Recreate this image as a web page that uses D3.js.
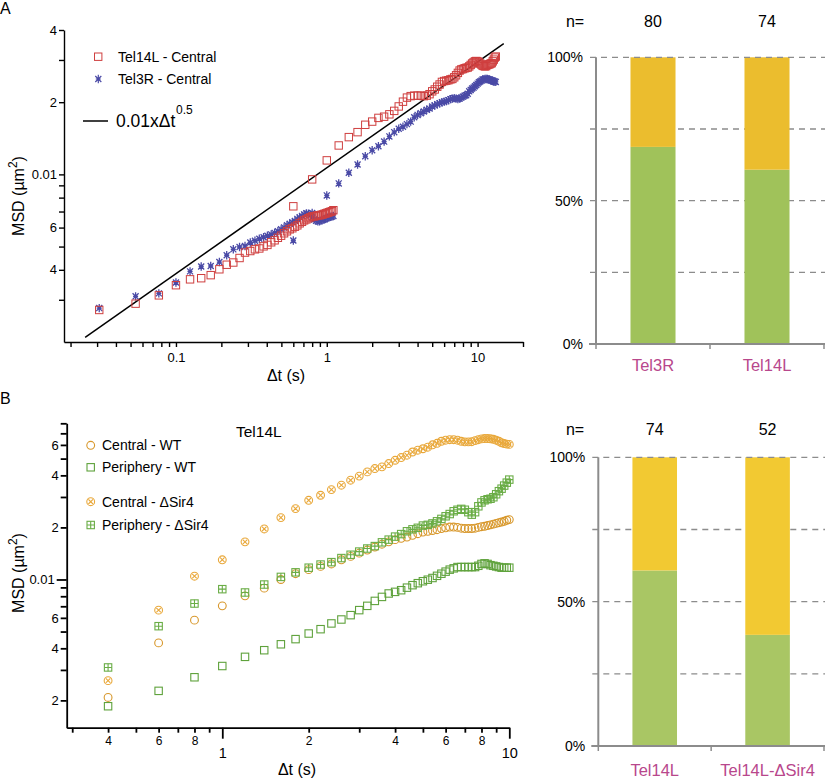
<!DOCTYPE html>
<html><head><meta charset="utf-8">
<script src="https://cdn.jsdelivr.net/npm/d3@7"></script>
<style>body{margin:0;background:#fff}svg{display:block}</style>
</head><body>
<svg id="chart" width="825" height="780"></svg>
<script>
// ---------------- DATA ----------------
// Panel A, MSD (um^2) vs time lag (s); short-interval acquisition
const tA1 = [0.031,0.054,0.077,0.100,0.124,0.147,0.170,0.194,0.217,0.240,0.264,0.287,0.311,0.334,0.357,0.381,0.404,0.428,0.451,0.474,0.498,0.521,0.545,0.568,0.591,0.615,0.638,0.661,0.685,0.708,0.732,0.755,0.778,0.802,0.825,0.849,0.872,0.895,0.919,0.942,0.966,0.989,1.012,1.036,1.059,1.083,1.106];
const tel14L_A1 = [0.00272,0.00289,0.00313,0.00345,0.00365,0.00369,0.00380,0.00402,0.00420,0.00429,0.00448,0.00472,0.00479,0.00487,0.00491,0.00501,0.00508,0.00521,0.00531,0.00544,0.00555,0.00568,0.00579,0.00590,0.00596,0.00605,0.00613,0.00625,0.00634,0.00643,0.00649,0.00656,0.00662,0.00668,0.00668,0.00671,0.00675,0.00675,0.00678,0.00681,0.00685,0.00688,0.00692,0.00695,0.00699,0.00702,0.00709];
const tel3R_A1 = [0.00277,0.00310,0.00319,0.00354,0.00394,0.00413,0.00415,0.00431,0.00460,0.00487,0.00498,0.00503,0.00520,0.00529,0.00539,0.00547,0.00555,0.00562,0.00570,0.00579,0.00590,0.00601,0.00613,0.00622,0.00631,0.00640,0.00652,0.00662,0.00671,0.00681,0.00688,0.00685,0.00675,0.00662,0.00649,0.00640,0.00637,0.00637,0.00643,0.00646,0.00649,0.00656,0.00659,0.00662,0.00665,0.00668,0.00671];
// Panel A, long-interval acquisition
const tA2 = [0.6,0.8,1.0,1.2,1.4,1.6,1.8,2.0,2.2,2.4,2.6,2.8,3.0,3.2,3.4,3.6,3.8,4.0,4.2,4.4,4.6,4.8,5.0,5.2,5.4,5.6,5.8,6.0,6.2,6.4,6.6,6.8,7.0,7.2,7.4,7.6,7.8,8.0,8.2,8.4,8.6,8.8,9.0,9.2,9.4,9.6,9.8,10.0,10.2,10.4,10.6,10.8,11.0,11.2,11.4,11.6,11.8,12.0,12.2,12.4,12.6,12.8,13.0,13.2];
const tel14L_A2 = [0.00736,0.00953,0.01144,0.0132,0.0143,0.0150,0.0161,0.0166,0.0172,0.0174,0.0178,0.0184,0.0192,0.0201,0.0209,0.0212,0.0213,0.0213,0.0213,0.0212,0.0213,0.0216,0.0222,0.0226,0.0232,0.0237,0.0243,0.0245,0.0246,0.0247,0.0249,0.0250,0.0254,0.0259,0.0265,0.0271,0.0274,0.0275,0.0277,0.0278,0.0279,0.0282,0.0286,0.0290,0.0293,0.0296,0.0297,0.0296,0.0293,0.0290,0.0287,0.0284,0.0283,0.0282,0.0283,0.0286,0.0287,0.0288,0.0290,0.0291,0.0296,0.0301,0.0307,0.0310];
const tel3R_A2 = [0.00530,0.00690,0.00817,0.00917,0.01016,0.0110,0.0119,0.0126,0.0131,0.0137,0.0144,0.0150,0.0155,0.0158,0.0162,0.0166,0.0173,0.0177,0.0180,0.0183,0.0186,0.0188,0.0192,0.0194,0.0196,0.0198,0.0200,0.0201,0.0202,0.0204,0.0206,0.0207,0.0208,0.0207,0.0206,0.0207,0.0209,0.0211,0.0213,0.0214,0.0217,0.0222,0.0225,0.0228,0.0230,0.0233,0.0236,0.0239,0.0242,0.0244,0.0246,0.0249,0.0249,0.0250,0.0250,0.0250,0.0249,0.0249,0.0247,0.0246,0.0245,0.0244,0.0244,0.0243];
// Reference line 0.01 x dt^0.5 (end points as drawn)
const fitT = [0.025, 14.9];
const fitMSD = [0.00209, 0.0351];

// Panel A axis ticks
const xTicksA = [0.02,0.03,0.04,0.05,0.06,0.07,0.08,0.09,0.1,0.2,0.3,0.4,0.5,0.6,0.7,0.8,0.9,1,2,3,4,5,6,7,8,9,10,20];
const xLabelValsA = [0.1, 1, 10];
const xLabelsA = ["0.1", "1", "10"];
const yTicksA = [0.003,0.004,0.005,0.006,0.007,0.008,0.009,0.01,0.02,0.03,0.04];
const yLabelsA = ["","4","","6","","","","0.01","2","","4"];

// Panel B (Tel14L)
const tB = [0.4,0.6,0.8,1.0,1.2,1.4,1.6,1.8,2.0,2.2,2.4,2.6,2.8,3.0,3.2,3.4,3.6,3.8,4.0,4.2,4.4,4.6,4.8,5.0,5.2,5.4,5.6,5.8,6.0,6.2,6.4,6.6,6.8,7.0,7.2,7.4,7.6,7.8,8.0,8.2,8.4,8.6,8.8,9.0,9.2,9.4,9.6,9.8,10.0];
const centralWT = [0.00208,0.00430,0.00582,0.00704,0.00804,0.00891,0.0100,0.0108,0.0114,0.0119,0.0123,0.0130,0.0136,0.0142,0.0148,0.0154,0.0160,0.0165,0.0170,0.0173,0.0176,0.0180,0.0184,0.0188,0.0190,0.0192,0.0194,0.0197,0.0199,0.0201,0.0201,0.0200,0.0198,0.0197,0.0197,0.0197,0.0198,0.0200,0.0202,0.0203,0.0205,0.0207,0.0209,0.0211,0.0213,0.0215,0.0217,0.0220,0.0222];
const peripheryWT = [0.00185,0.00227,0.00272,0.00316,0.00357,0.00390,0.00422,0.00452,0.00487,0.00516,0.00557,0.00587,0.00622,0.00665,0.00704,0.00752,0.00793,0.00830,0.00848,0.00867,0.00897,0.00927,0.00952,0.00977,0.00997,0.0102,0.0105,0.0108,0.0111,0.0114,0.0116,0.0118,0.0118,0.0118,0.0118,0.0118,0.0118,0.0120,0.0123,0.0124,0.0123,0.0121,0.0120,0.0119,0.0118,0.0117,0.0117,0.0117,0.0117];
const centralSir4 = [0.00260,0.00665,0.01045,0.0130,0.0165,0.0196,0.0228,0.0257,0.0287,0.0307,0.0331,0.0351,0.0375,0.0396,0.0419,0.0438,0.0448,0.0468,0.0489,0.0507,0.0523,0.0546,0.0559,0.0570,0.0582,0.0601,0.0613,0.0630,0.0639,0.0643,0.0643,0.0639,0.0630,0.0625,0.0625,0.0626,0.0635,0.0643,0.0650,0.0653,0.0653,0.0651,0.0647,0.0639,0.0630,0.0617,0.0611,0.0606,0.0604];
const peripherySir4 = [0.00310,0.00537,0.00726,0.00879,0.00841,0.00935,0.01035,0.0110,0.0117,0.0122,0.0126,0.0133,0.0139,0.0145,0.0151,0.0156,0.0164,0.0170,0.0177,0.0183,0.0190,0.0195,0.0199,0.0205,0.0207,0.0211,0.0217,0.0224,0.0232,0.0239,0.0248,0.0253,0.0256,0.0253,0.0245,0.0237,0.0245,0.0265,0.0279,0.0287,0.0291,0.0293,0.0299,0.0311,0.0324,0.0335,0.0349,0.0363,0.0378];

// Panel B axis ticks
const xTicksB = [0.3,0.4,0.5,0.6,0.7,0.8,0.9,1,2,3,4,5,6,7,8,9,10];
const xLabelsB = ["","4","","6","","8","","1","2","","4","","6","","8","","10"];
const xMajorB = [1, 10];
const yTicksB = [0.002,0.003,0.004,0.005,0.006,0.007,0.008,0.009,0.01,0.02,0.03,0.04,0.05,0.06,0.07,0.08];
const yLabelsB = ["2","","4","","6","","","","0.01","2","","4","","6","",""];
const yMajorB = [0.01];

// Bar charts: percentage of the green (lower) class
const barCatsA = ["Tel3R", "Tel14L"];
const barNA = [80, 74];
const barGreenA = [68.75, 60.8];
const barCatsB = ["Tel14L", "Tel14L-\u0394Sir4"];
const barNB = [74, 52];
const barGreenB = [60.8, 38.5];
const pctTicks = [0, 25, 50, 75, 100];
const pctLabels = ["0%", "", "50%", "", "100%"];

// ---------------- DRAWING ----------------
const FONT = '"Liberation Sans", Arial, Helvetica, sans-serif';
const svg = d3.select("#chart").attr("font-family", FONT);

function styleAxis(g, w, col) {
  g.selectAll("path,line").attr("stroke", col).attr("stroke-width", w);
  g.selectAll("text").attr("fill", "#000").attr("font-family", FONT);
}

// Panel letters
svg.append("text").attr("x", 0).attr("y", 14).attr("font-size", 16).text("A");
svg.append("text").attr("x", 0).attr("y", 404).attr("font-size", 16).text("B");

// ===== Panel A MSD plot =====
const xA = d3.scaleLog().domain([0.0181, 20]).range([64, 523]);
const yA = d3.scaleLog().domain([0.002, 0.04]).range([342, 30]);
const yLabMapA = new Map(yTicksA.map((v, i) => [v, yLabelsA[i]]));
const xLabMapA = new Map(xLabelValsA.map((v, i) => [v, xLabelsA[i]]));

const gyA = svg.append("g").attr("transform", "translate(64,0)")
  .call(d3.axisLeft(yA).tickValues(yTicksA).tickFormat(d => yLabMapA.get(d) || "")
    .tickSize(5).tickSizeOuter(0).tickPadding(2));
styleAxis(gyA, 1.4, "#000");
gyA.selectAll("text").attr("font-size", 13);

const gxA = svg.append("g").attr("transform", "translate(0,342)")
  .call(d3.axisBottom(xA).tickValues(xTicksA).tickFormat(d => xLabMapA.get(d) || "")
    .tickSize(5).tickSizeOuter(0).tickPadding(4));
styleAxis(gxA, 1.4, "#000");
gxA.selectAll("text").attr("font-size", 13).attr("y", 11);

svg.append("text").attr("x", 286).attr("y", 381).attr("text-anchor", "middle")
  .attr("font-size", 16).text("\u0394t (s)");
const msdA = svg.append("text").attr("transform", "translate(24,196) rotate(-90)")
  .attr("text-anchor", "middle").attr("font-size", 16);
msdA.append("tspan").text("MSD (\u00b5m");
msdA.append("tspan").attr("dy", -7).attr("font-size", 12).text("2");
msdA.append("tspan").attr("dy", 7).text(")");

// fit line
svg.append("path")
  .datum(fitT.map((t, i) => [t, fitMSD[i]]))
  .attr("d", d3.line().x(d => xA(d[0])).y(d => yA(d[1])))
  .attr("stroke", "#000").attr("stroke-width", 1.5).attr("fill", "none");

const RED = "#cf3f3f", BLUE = "#4a4aa6";
function asteriskPath(r) {
  const a = r * 0.72;
  return `M0,${-r}V${r}M${-a},${-a}L${a},${a}M${-a},${a}L${a},${-a}M${-r*0.6},0H${r*0.6}`;
}
const ptsA3R = tA1.map((t, i) => [t, tel3R_A1[i]]).concat(tA2.map((t, i) => [t, tel3R_A2[i]]));
const ptsA14 = tA1.map((t, i) => [t, tel14L_A1[i]]).concat(tA2.map((t, i) => [t, tel14L_A2[i]]));

svg.append("g").selectAll("path").data(ptsA3R).join("path")
  .attr("transform", d => `translate(${xA(d[0])},${yA(d[1])})`)
  .attr("d", asteriskPath(4.2)).attr("stroke", BLUE).attr("stroke-width", 1.3).attr("fill", "none");
svg.append("g").selectAll("rect").data(ptsA14).join("rect")
  .attr("x", d => xA(d[0]) - 3.7).attr("y", d => yA(d[1]) - 3.7)
  .attr("width", 7.4).attr("height", 7.4)
  .attr("stroke", RED).attr("stroke-width", 1).attr("fill", "none");

// legend A
svg.append("rect").attr("x", 94.5).attr("y", 53).attr("width", 7.4).attr("height", 7.4)
  .attr("stroke", RED).attr("fill", "none");
svg.append("text").attr("x", 118).attr("y", 62).attr("font-size", 14).text("Tel14L - Central");
svg.append("path").attr("transform", "translate(98.3,79)").attr("d", asteriskPath(4.2))
  .attr("stroke", BLUE).attr("stroke-width", 1.2).attr("fill", "none");
svg.append("text").attr("x", 118).attr("y", 84).attr("font-size", 14).text("Tel3R - Central");
svg.append("line").attr("x1", 83).attr("x2", 108).attr("y1", 121).attr("y2", 121)
  .attr("stroke", "#000").attr("stroke-width", 1.5);
svg.append("text").attr("x", 116).attr("y", 127).attr("font-size", 17.5).text("0.01x\u0394t");
svg.append("text").attr("x", 176).attr("y", 114).attr("font-size", 12).text("0.5");

// ===== Bar charts =====
function barPanel(cats, ns, greens, axisX, yBottom, yTop, nY, catY, yellow, green) {
  const x = d3.scaleBand().domain(cats).range([axisX, 824]).padding(0);
  const y = d3.scaleLinear().domain([0, 100]).range([yBottom, yTop]);
  const bw = x.bandwidth() * 0.395;
  const grey = "#8c8c8c";
  const g = svg.append("g");
  g.selectAll("line.grid").data(pctTicks.filter(v => v > 0 && v < 100)).join("line")
    .attr("x1", axisX - 6).attr("x2", 825).attr("y1", d => y(d)).attr("y2", d => y(d))
    .attr("stroke", grey).attr("stroke-width", 1.3).attr("stroke-dasharray", "6,5");
  cats.forEach((c, i) => {
    const cx = x(c) + x.bandwidth() / 2;
    g.append("rect").attr("x", cx - bw / 2).attr("width", bw)
      .attr("y", y(greens[i])).attr("height", y(0) - y(greens[i])).attr("fill", green);
    g.append("rect").attr("x", cx - bw / 2).attr("width", bw)
      .attr("y", y(100)).attr("height", y(greens[i]) - y(100)).attr("fill", yellow);
    g.append("text").attr("x", cx).attr("y", nY).attr("text-anchor", "middle")
      .attr("font-size", 16).text(ns[i]);
    g.append("text").attr("x", cx).attr("y", catY).attr("text-anchor", "middle")
      .attr("font-size", 16.5).attr("fill", "#b8478c").text(c);
  });
  g.append("line").attr("x1", axisX - 6).attr("x2", 825).attr("y1", y(100)).attr("y2", y(100))
    .attr("stroke", grey).attr("stroke-width", 1.3).attr("stroke-dasharray", "6,5");
  g.append("line").attr("x1", axisX).attr("x2", axisX).attr("y1", y(0)).attr("y2", y(100))
    .attr("stroke", grey).attr("stroke-width", 2);
  g.append("line").attr("x1", axisX - 7).attr("x2", 825).attr("y1", y(0)).attr("y2", y(0))
    .attr("stroke", grey).attr("stroke-width", 2);
  const bx = [axisX].concat(cats.map(c => x(c) + x.bandwidth()));
  g.selectAll("line.bt").data(bx).join("line")
    .attr("x1", d => d).attr("x2", d => d).attr("y1", y(0)).attr("y2", y(0) + 5)
    .attr("stroke", grey).attr("stroke-width", 1.5);
  pctTicks.forEach((v, i) => {
    if (pctLabels[i]) g.append("text").attr("x", axisX - 13).attr("y", y(v) + 5)
      .attr("text-anchor", "end").attr("font-size", 14).text(pctLabels[i]);
  });
  g.append("text").attr("x", 575).attr("y", nY).attr("text-anchor", "middle")
    .attr("font-size", 16).text("n=");
}
barPanel(barCatsA, barNA, barGreenA, 596, 344, 57.3, 27, 371, "#ebbd2e", "#a0c25a");
barPanel(barCatsB, barNB, barGreenB, 598.3, 746, 457.3, 435, 776, "#f2c932", "#a9c664");

// ===== Panel B MSD plot =====
const xB = d3.scaleLog().domain([0.287, 10]).range([66.7, 509.3]);
const yB = d3.scaleLog().domain([0.00139, 0.08]).range([727.7, 423.3]);
const yLabMapB = new Map(yTicksB.map((v, i) => [v, yLabelsB[i]]));
const xLabMapB = new Map(xTicksB.map((v, i) => [v, xLabelsB[i]]));

const gyB = svg.append("g").attr("transform", "translate(66.7,0)")
  .call(d3.axisLeft(yB).tickValues(yTicksB).tickFormat(d => yLabMapB.get(d) || "")
    .tickSize(6).tickSizeOuter(0).tickPadding(2));
styleAxis(gyB, 1.8, "#000");
gyB.selectAll("text").attr("font-size", 13);
gyB.selectAll(".tick").filter(d => yMajorB.includes(d)).each(function () {
  d3.select(this).select("line").attr("x2", -10);
  d3.select(this).select("text").attr("x", -12);
});

const gxB = svg.append("g").attr("transform", "translate(0,727.7)")
  .call(d3.axisBottom(xB).tickValues(xTicksB).tickFormat(d => xLabMapB.get(d) || "")
    .tickSize(5).tickSizeOuter(0).tickPadding(4));
styleAxis(gxB, 1.8, "#000");
gxB.selectAll("text").attr("font-size", 12).attr("y", 9);
gxB.selectAll(".tick").filter(d => xMajorB.includes(d)).each(function () {
  d3.select(this).select("line").attr("y2", 11);
  d3.select(this).select("text").attr("y", 20).attr("font-size", 14.5);
});

svg.append("text").attr("x", 297).attr("y", 775).attr("text-anchor", "middle")
  .attr("font-size", 16).text("\u0394t (s)");
const msdB = svg.append("text").attr("transform", "translate(24,573) rotate(-90)")
  .attr("text-anchor", "middle").attr("font-size", 16);
msdB.append("tspan").text("MSD (\u00b5m");
msdB.append("tspan").attr("dy", -7).attr("font-size", 12).text("2");
msdB.append("tspan").attr("dy", 7).text(")");

svg.append("text").attr("x", 236).attr("y", 437).attr("font-size", 15.5).text("Tel14L");

const ORANGE = "#d8982c", ORANGE2 = "#e9a83a", GREEN = "#5fa23c", GREEN2 = "#6aad46";
function drawMarker(sel, kind, color) {
  sel.attr("fill", "none").attr("stroke", color).attr("stroke-width", 1.1);
  if (kind === "circle" || kind === "circleX") {
    sel.append("circle").attr("r", 3.9);
    if (kind === "circleX") sel.append("path").attr("d", "M-2.3,-2.3L2.3,2.3M-2.3,2.3L2.3,-2.3");
  } else {
    sel.append("rect").attr("x", -3.7).attr("y", -3.7).attr("width", 7.4).attr("height", 7.4);
    if (kind === "squarePlus") sel.append("path").attr("d", "M0,-3.7V3.7M-3.7,0H3.7");
  }
}
const seriesB = [
  { vals: peripheryWT, kind: "square", color: GREEN, label: "Periphery - WT", ly: 467.3 },
  { vals: centralWT, kind: "circle", color: ORANGE, label: "Central - WT", ly: 445.3 },
  { vals: peripherySir4, kind: "squarePlus", color: GREEN2, label: "Periphery - \u0394Sir4", ly: 525 },
  { vals: centralSir4, kind: "circleX", color: ORANGE2, label: "Central - \u0394Sir4", ly: 501.7 }
];
seriesB.forEach(s => {
  svg.append("g").selectAll("g").data(tB.map((t, i) => [t, s.vals[i]])).join("g")
    .attr("transform", d => `translate(${xB(d[0])},${yB(d[1])})`)
    .each(function () { drawMarker(d3.select(this), s.kind, s.color); });
  const lg = svg.append("g").attr("transform", `translate(90.7,${s.ly})`);
  drawMarker(lg, s.kind, s.color);
  svg.append("text").attr("x", 102).attr("y", s.ly + 5).attr("font-size", 14).text(s.label);
});
</script>
</body></html>
